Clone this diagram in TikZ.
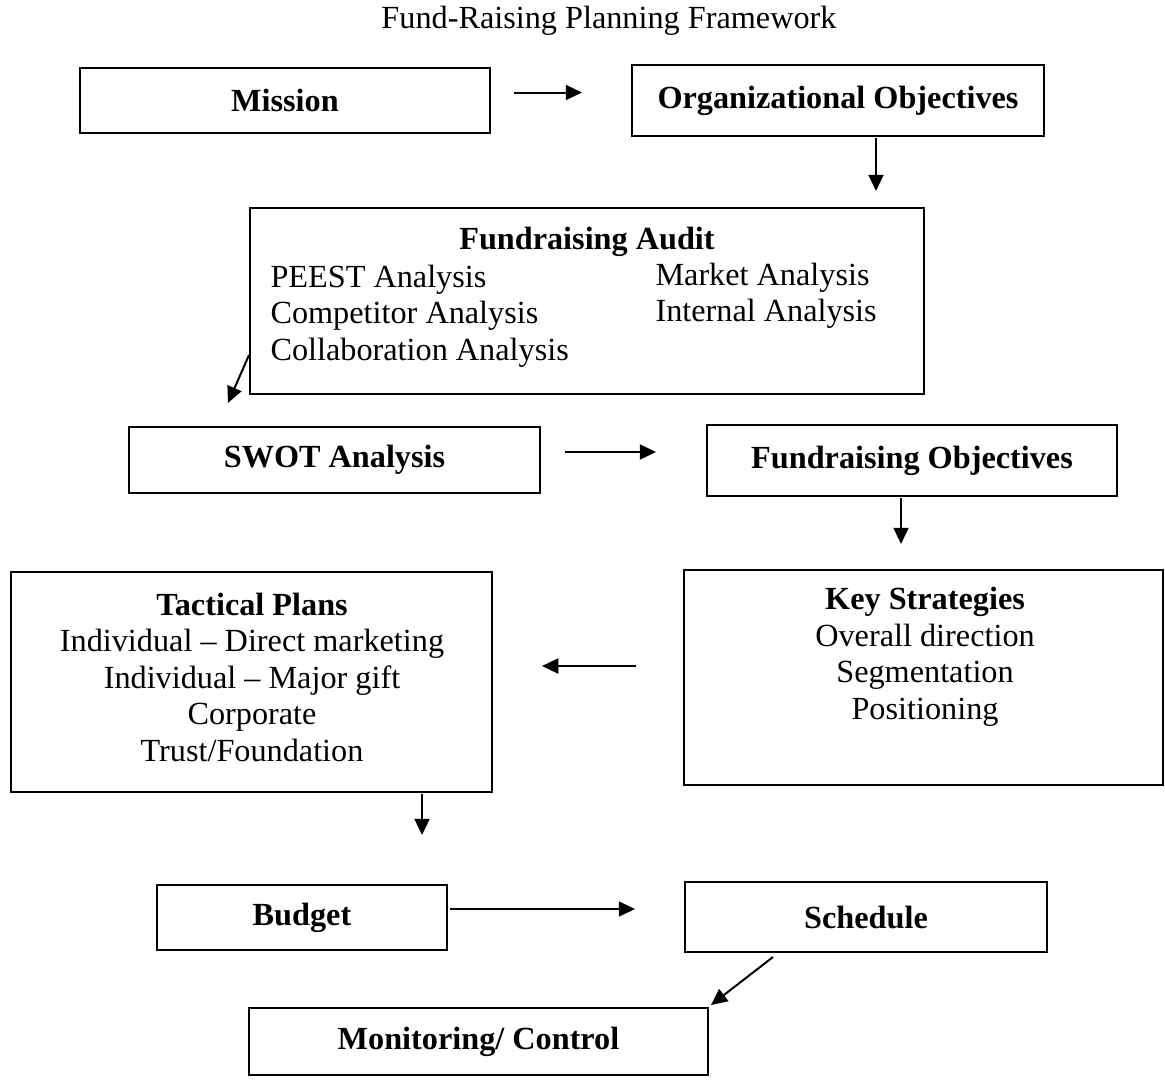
\documentclass[tikz,border=0pt]{standalone}
\usepackage{fontspec}
\setmainfont{Liberation Serif}
\usetikzlibrary{arrows.meta,calc}

\tikzset{
  box/.style={draw, line width=0.8pt, inner sep=0pt, font=\fontsize{12.9}{14.6}\selectfont\bfseries},
  txt/.style={inner sep=0pt, font=\fontsize{12.9}{14.6}\selectfont},
  arr/.style={line width=0.8pt, -{Triangle[length=6.5pt,width=6pt]}}
}

\begin{document}
\begin{tikzpicture}[x=0.4pt,y=-0.4pt]
        % Fix the page to the reference size
        \useasboundingbox (0,0) rectangle (1165,1081);

        % Title
        \node[txt] (title) at (609,21) {Fund-Raising Planning Framework};

        % Top row
        \node[box, minimum width=164pt, minimum height=26pt] (mission) at (285,100.5) {Mission};
        \node[box, minimum width=164.8pt, minimum height=28.4pt] (orgobj) at (838,100.5) {Organizational Objectives};

        % Fundraising audit
        \node[box, minimum width=269.6pt, minimum height=74.4pt] (audit) at (587,301) {};
        \node[txt, font=\fontsize{12.9}{14.6}\selectfont\bfseries] (audittitle) at (587,242) {Fundraising Audit};
        \node[txt, align=left, anchor=west] (auditleft) at (270,316) {PEEST Analysis\\Competitor Analysis\\Collaboration Analysis};
        \node[txt, align=left, anchor=west] (auditright) at (655,296) {Market Analysis\\Internal Analysis};

        % Middle row
        \node[box, minimum width=164.4pt, minimum height=26.4pt] (swot) at (334.5,460) {SWOT Analysis};
        \node[box, minimum width=164pt, minimum height=28.4pt] (fundobj) at (912,460.5) {Fundraising Objectives};

        % Plans and strategies
        \node[box, minimum width=192.4pt, minimum height=88pt] (tactical) at (251.5,682) {};
        \node[txt, align=center] (tacticaltext) at (252,677) {\textbf{Tactical Plans}\\Individual -- Direct marketing\\Individual -- Major gift\\Corporate\\Trust/Foundation};
        \node[box, minimum width=191.6pt, minimum height=86pt] (keystrat) at (923.5,677.5) {};
        \node[txt, align=center] (keytext) at (925,657) {\textbf{Key Strategies}\\Overall direction\\Segmentation\\Positioning};

        % Bottom rows
        \node[box, minimum width=116pt, minimum height=26pt] (budget) at (302,917.5) {Budget};
        \node[box, minimum width=144.8pt, minimum height=28pt] (schedule) at (866,917) {Schedule};
        \node[box, minimum width=183.6pt, minimum height=26.8pt] (monitor) at (478.5,1041.5) {Monitoring/ Control};

        % Arrows between the boxes
        \draw[arr] ($(mission.east)+(23,-8)$) -- ($(orgobj.west)+(-49,-8)$);
        \draw[arr] ($(orgobj.south)+(38,1)$) -- ($(audit.north)+(289,-16)$);
        \draw[arr] ($(audit.west)+(0,54)$) -- ($(swot.north)+(-106.5,-23)$);
        \draw[arr] ($(swot.east)+(24,-8)$) -- ($(fundobj.west)+(-50,-8.5)$);
        \draw[arr] ($(fundobj.south)+(-11,1)$) -- ($(keystrat.north)+(-22.5,-25)$);
        \draw[arr] ($(keystrat.west)+(-47,-11.5)$) -- ($(tactical.east)+(49,-16)$);
        \draw[arr] ($(tactical.south)+(170.5,1)$) -- ($(budget.north)+(120,-49)$);
        \draw[arr] ($(budget.east)+(2,-8.5)$) -- ($(schedule.west)+(-49,-8)$);
        \draw[arr] ($(schedule.south)+(-93,4)$) -- ($(monitor.north east)+(2,-2)$);
\end{tikzpicture}
\end{document}
